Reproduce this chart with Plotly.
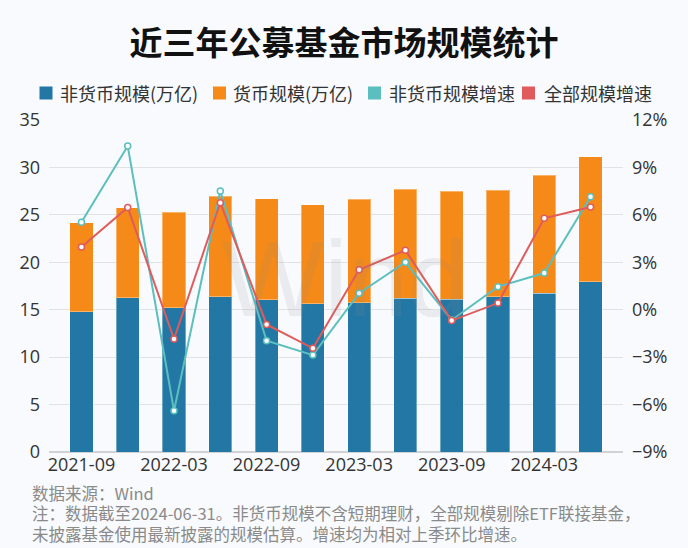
import plotly.graph_objects as go

quarters = ["2021-09", "2021-12", "2022-03", "2022-06", "2022-09", "2022-12",
            "2023-03", "2023-06", "2023-09", "2023-12", "2024-03", "2024-06"]
tick_labels = ["2021-09", "2022-03", "2022-09", "2023-03", "2023-09", "2024-03"]
non_money = [14.79, 16.27, 15.22, 16.38, 16.06, 15.64, 15.74, 16.20, 16.09, 16.38, 16.73, 17.96]
money = [9.38, 9.49, 10.05, 10.57, 10.65, 10.40, 10.93, 11.49, 11.42, 11.24, 12.47, 13.14]
non_money_growth = [5.53, 10.35, -6.39, 7.51, -1.96, -2.87, 1.04, 3.00, -0.65, 1.46, 2.32, 7.15]
total_growth = [3.97, 6.47, -1.85, 6.77, -0.93, -2.44, 2.53, 3.76, -0.69, 0.42, 5.78, 6.50]

names = ["非货币规模(万亿)", "货币规模(万亿)", "非货币规模增速", "全部规模增速"]
colors = ["#2377A4", "#F58A18", "#5CBFBF", "#E05B5B"]

W, H = 688, 548
L, R, T, B = 49, 65, 120, 96
plot_w = W - L - R
plot_h = H - T - B

fig = go.Figure()
fig.add_trace(go.Bar(x=quarters, y=non_money, name=names[0], marker_color=colors[0],
                     marker_line=dict(color="rgba(255,255,255,0.35)", width=1),
                     showlegend=False, width=0.5))
fig.add_trace(go.Bar(x=quarters, y=money, name=names[1], marker_color=colors[1],
                     marker_line=dict(color="rgba(255,255,255,0.35)", width=1),
                     showlegend=False, width=0.5))
fig.add_trace(go.Scatter(x=quarters, y=non_money_growth, name=names[2], yaxis="y2",
                         mode="lines+markers", line=dict(color=colors[2], width=2),
                         marker=dict(symbol="circle", size=6, color="white",
                                     line=dict(color=colors[2], width=1.5)),
                         showlegend=False))
fig.add_trace(go.Scatter(x=quarters, y=total_growth, name=names[3], yaxis="y2",
                         mode="lines+markers", line=dict(color=colors[3], width=2),
                         marker=dict(symbol="circle", size=6, color="white",
                                     line=dict(color=colors[3], width=1.5)),
                         showlegend=False))


def px_x(p):
    return (p - L) / plot_w


def px_y(p):
    return (H - B - p) / plot_h


annots = [
    dict(text="Wind", x=px_x(345), y=px_y(278), xref="paper", yref="paper", showarrow=False,
         font=dict(size=108, color="rgba(140,140,140,0.13)", family="Liberation Sans, Arial"),
         xanchor="center", yanchor="middle"),
]
shapes = []

# legend row (square swatches + labels)
sq_left = [39.5, 213, 368, 522]
txt_left = [58, 231, 387, 542]
leg_y = 93
for n, c, sx, tx in zip(names, colors, sq_left, txt_left):
    shapes.append(dict(type="rect", xref="paper", yref="paper",
                       x0=px_x(sx), x1=px_x(sx + 13), y0=px_y(leg_y + 6.5), y1=px_y(leg_y - 6.5),
                       fillcolor=c, line=dict(width=0)))
    annots.append(dict(text=n, x=px_x(tx), y=px_y(leg_y), xref="paper", yref="paper",
                       showarrow=False, xanchor="left", yanchor="middle",
                       font=dict(size=18, color="#333333", family="Noto Sans CJK SC")))

foot = ["数据来源：Wind",
        "注：数据截至2024-06-31。非货币规模不含短期理财，全部规模剔除ETF联接基金，",
        "未披露基金使用最新披露的规模估算。增速均为相对上季环比增速。"]
foot_y = [492.5, 513, 533.5]
for t, fy in zip(foot, foot_y):
    annots.append(dict(text=t, x=px_x(30), y=px_y(fy), xref="paper", yref="paper",
                       showarrow=False, xanchor="left", yanchor="middle", align="left",
                       font=dict(size=16.5, color="#8a8a8a", family="Noto Sans CJK SC")))

fig.update_layout(
    width=W, height=H,
    margin=dict(l=L, r=R, t=T, b=B, autoexpand=False),
    paper_bgcolor="#F8FAFD", plot_bgcolor="#F8FAFD",
    barmode="stack", bargap=0.5, showlegend=False,
    font=dict(family="Open Sans, Noto Sans CJK SC", color="#333333", size=18),
    title=dict(text="<b>近三年公募基金市场规模统计</b>", x=0.5, xanchor="center",
               y=1 - 43 / H, yanchor="middle", yref="container",
               font=dict(size=33, color="#111111", family="Noto Sans CJK SC")),
    xaxis=dict(type="category", categoryorder="array", categoryarray=quarters,
               tickmode="array", tickvals=tick_labels, ticktext=tick_labels,
               showgrid=False, showline=False, ticks="", zeroline=False,
               tickfont=dict(size=18, color="#333333")),
    yaxis=dict(range=[0, 35], dtick=5, tick0=0, showgrid=True, gridcolor="#E0E2E6",
               gridwidth=1, zeroline=True, zerolinecolor="#D0D2D6", showline=False,
               ticks="", tickfont=dict(size=18, color="#333333"), ticklabelstandoff=8),
    yaxis2=dict(range=[-9, 12], dtick=3, tick0=0, overlaying="y", side="right",
                showgrid=False, zeroline=False, showline=False, ticks="",
                ticksuffix="%", tickfont=dict(size=18, color="#333333"), ticklabelstandoff=8),
    annotations=annots,
    shapes=shapes,
)

fig.write_html("out.html", config={"displayModeBar": False},
               post_script="document.body.style.margin='0px';document.body.style.overflow='hidden';")
